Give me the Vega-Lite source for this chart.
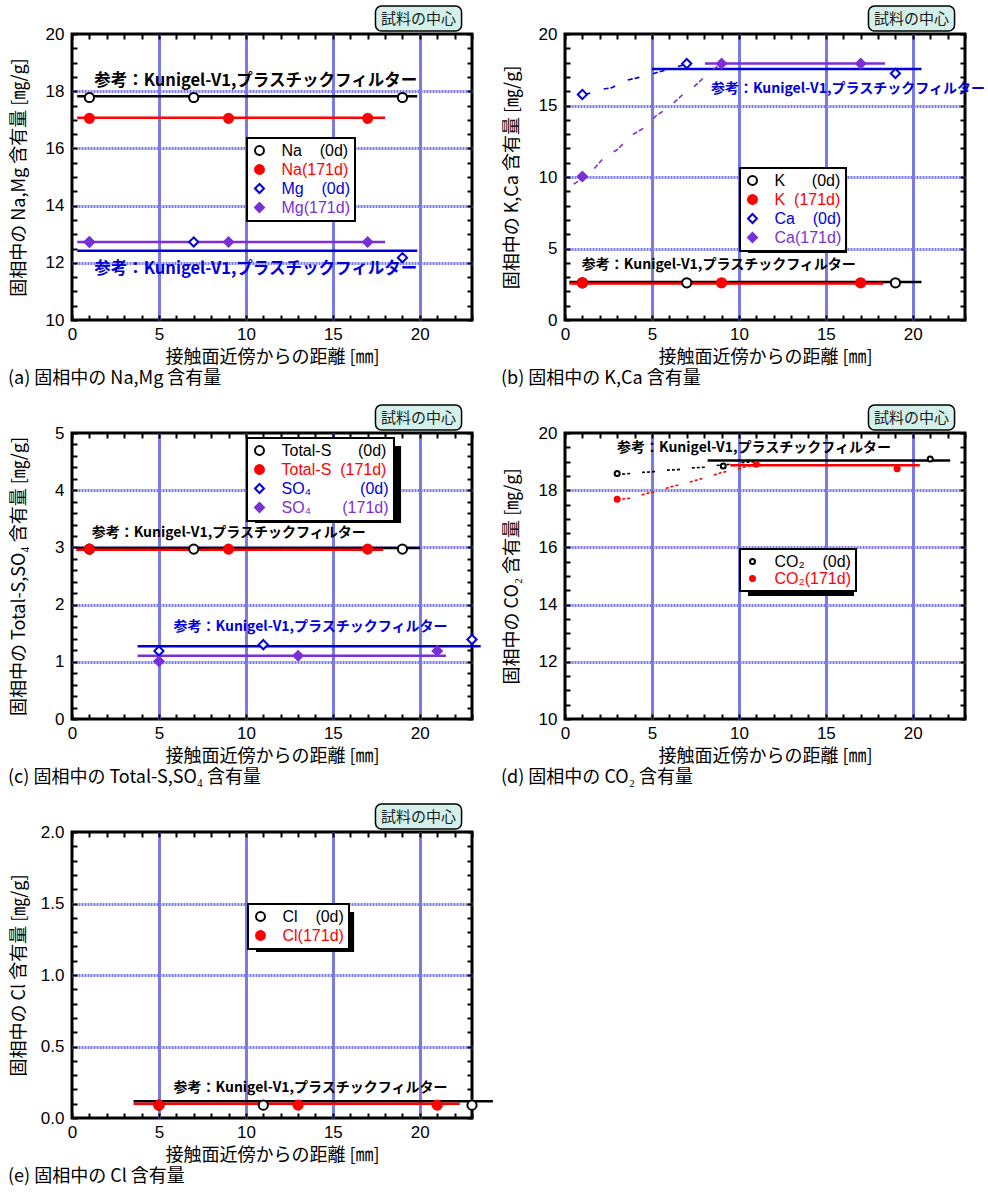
{
"$schema":"https://vega.github.io/schema/vega-lite/v6.json",
"background":"white",
"padding":{"left":6,"top":3,"right":5,"bottom":5},
"bounds":"flush",
"columns":2,
"spacing":{"row":113,"column":93},
"config":{
 "view":{"stroke":"#000000","strokeWidth":3},
 "axis":{"domain":false,"tickColor":"#000000","tickWidth":2,"tickSize":-5,"labelFont":"Liberation Sans","labelFontSize":17,"labelColor":"#000000","labelOverlap":false,"labelFlush":false,"titleFont":"Noto Sans CJK JP","titleFontSize":18,"titleFontWeight":"normal","titleColor":"#000000","gridColor":"#7a7ae6","gridWidth":3},
 "axisBottom":{"labelPadding":11,"titleY":37,"titleBaseline":"middle"},
 "axisLeft":{"labelPadding":13,"titleX":-53,"titleBaseline":"middle","gridDash":[2,1]},
 "legend":{"strokeWidth":2,"fillColor":"#ffffff","strokeColor":"#000000"},
 "title":{"orient":"bottom","anchor":"start","frame":"group","dx":-64,"offset":4,"fontSize":18,"fontWeight":"normal","font":"Noto Sans CJK JP","color":"#000000","baseline":"top"}
},
"datasets":{
 "points":[
  {"panel":"a","series":"Na\u00a0\u00a0\u00a0\u00a0(0d)","x":1,"y":17.78},
  {"panel":"a","series":"Na\u00a0\u00a0\u00a0\u00a0(0d)","x":7,"y":17.78},
  {"panel":"a","series":"Na\u00a0\u00a0\u00a0\u00a0(0d)","x":19,"y":17.78},
  {"panel":"a","series":"Mg\u00a0\u00a0\u00a0\u00a0(0d)","x":1,"y":12.73},
  {"panel":"a","series":"Mg\u00a0\u00a0\u00a0\u00a0(0d)","x":7,"y":12.73},
  {"panel":"a","series":"Mg\u00a0\u00a0\u00a0\u00a0(0d)","x":19,"y":12.18},
  {"panel":"a","series":"Na(171d)","x":1,"y":17.05},
  {"panel":"a","series":"Na(171d)","x":9,"y":17.05},
  {"panel":"a","series":"Na(171d)","x":17,"y":17.05},
  {"panel":"a","series":"Mg(171d)","x":1,"y":12.73},
  {"panel":"a","series":"Mg(171d)","x":9,"y":12.73},
  {"panel":"a","series":"Mg(171d)","x":17,"y":12.73},
  {"panel":"b","series":"K\u00a0\u00a0\u00a0\u00a0\u00a0\u00a0(0d)","x":1,"y":2.6},
  {"panel":"b","series":"K\u00a0\u00a0\u00a0\u00a0\u00a0\u00a0(0d)","x":7,"y":2.6},
  {"panel":"b","series":"K\u00a0\u00a0\u00a0\u00a0\u00a0\u00a0(0d)","x":19,"y":2.6},
  {"panel":"b","series":"Ca\u00a0\u00a0\u00a0\u00a0(0d)","x":1,"y":15.77},
  {"panel":"b","series":"Ca\u00a0\u00a0\u00a0\u00a0(0d)","x":7,"y":17.93},
  {"panel":"b","series":"Ca\u00a0\u00a0\u00a0\u00a0(0d)","x":19,"y":17.24},
  {"panel":"b","series":"K\u00a0\u00a0(171d)","x":1,"y":2.6},
  {"panel":"b","series":"K\u00a0\u00a0(171d)","x":9,"y":2.6},
  {"panel":"b","series":"K\u00a0\u00a0(171d)","x":17,"y":2.6},
  {"panel":"b","series":"Ca(171d)","x":1,"y":10.03},
  {"panel":"b","series":"Ca(171d)","x":9,"y":17.93},
  {"panel":"b","series":"Ca(171d)","x":17,"y":17.93},
  {"panel":"c","series":"Total-S\u00a0\u00a0\u00a0\u00a0\u00a0\u00a0(0d)","x":1,"y":2.97},
  {"panel":"c","series":"Total-S\u00a0\u00a0\u00a0\u00a0\u00a0\u00a0(0d)","x":7,"y":2.97},
  {"panel":"c","series":"Total-S\u00a0\u00a0\u00a0\u00a0\u00a0\u00a0(0d)","x":19,"y":2.97},
  {"panel":"c","series":"SO₄\u00a0\u00a0\u00a0\u00a0\u00a0\u00a0\u00a0\u00a0\u00a0\u00a0\u00a0(0d)","x":5,"y":1.19},
  {"panel":"c","series":"SO₄\u00a0\u00a0\u00a0\u00a0\u00a0\u00a0\u00a0\u00a0\u00a0\u00a0\u00a0(0d)","x":11,"y":1.3},
  {"panel":"c","series":"SO₄\u00a0\u00a0\u00a0\u00a0\u00a0\u00a0\u00a0\u00a0\u00a0\u00a0\u00a0(0d)","x":23,"y":1.39},
  {"panel":"c","series":"Total-S\u00a0\u00a0(171d)","x":1,"y":2.97},
  {"panel":"c","series":"Total-S\u00a0\u00a0(171d)","x":9,"y":2.97},
  {"panel":"c","series":"Total-S\u00a0\u00a0(171d)","x":17,"y":2.97},
  {"panel":"c","series":"SO₄\u00a0\u00a0\u00a0\u00a0\u00a0\u00a0\u00a0(171d)","x":5,"y":1.01},
  {"panel":"c","series":"SO₄\u00a0\u00a0\u00a0\u00a0\u00a0\u00a0\u00a0(171d)","x":13,"y":1.105},
  {"panel":"c","series":"SO₄\u00a0\u00a0\u00a0\u00a0\u00a0\u00a0\u00a0(171d)","x":21,"y":1.19},
  {"panel":"d","series":"CO₂\u00a0\u00a0\u00a0\u00a0(0d)","x":3,"y":18.58},
  {"panel":"d","series":"CO₂\u00a0\u00a0\u00a0\u00a0(0d)","x":9.1,"y":18.85},
  {"panel":"d","series":"CO₂\u00a0\u00a0\u00a0\u00a0(0d)","x":21,"y":19.09},
  {"panel":"d","series":"CO₂(171d)","x":3,"y":17.68},
  {"panel":"d","series":"CO₂(171d)","x":11,"y":18.91},
  {"panel":"d","series":"CO₂(171d)","x":19.1,"y":18.75},
  {"panel":"e","series":"Cl\u00a0\u00a0\u00a0\u00a0(0d)","x":5,"y":0.09},
  {"panel":"e","series":"Cl\u00a0\u00a0\u00a0\u00a0(0d)","x":11,"y":0.09},
  {"panel":"e","series":"Cl\u00a0\u00a0\u00a0\u00a0(0d)","x":23,"y":0.09},
  {"panel":"e","series":"Cl(171d)","x":5,"y":0.09},
  {"panel":"e","series":"Cl(171d)","x":13,"y":0.09},
  {"panel":"e","series":"Cl(171d)","x":21,"y":0.09}
 ],
 "fits":[
  {"panel":"a","line":"Na 0d","x":0.3,"x2":19.85,"y":17.82},
  {"panel":"a","line":"Mg 0d","x":0.3,"x2":19.85,"y":12.42},
  {"panel":"a","line":"Na 171d","x":0.3,"x2":18.0,"y":17.07},
  {"panel":"a","line":"Mg 171d","x":0.3,"x2":18.0,"y":12.73},
  {"panel":"b","line":"K 0d","x":0.25,"x2":20.5,"y":2.66},
  {"panel":"b","line":"Ca 0d","x":5.0,"x2":20.5,"y":17.56},
  {"panel":"b","line":"K 171d","x":0.25,"x2":18.3,"y":2.55},
  {"panel":"b","line":"Ca 171d","x":8.05,"x2":18.4,"y":17.93},
  {"panel":"c","line":"Total-S 0d","x":0.25,"x2":20.0,"y":2.99},
  {"panel":"c","line":"SO4 0d","x":3.77,"x2":23.5,"y":1.27},
  {"panel":"c","line":"Total-S 171d","x":0.25,"x2":17.9,"y":2.96},
  {"panel":"c","line":"SO4 171d","x":3.77,"x2":21.5,"y":1.105},
  {"panel":"d","line":"CO2 0d","x":8.2,"x2":22.15,"y":19.04},
  {"panel":"d","line":"CO2 171d","x":9.5,"x2":20.4,"y":18.87},
  {"panel":"e","line":"Cl 0d","x":3.54,"x2":24.2,"y":0.117},
  {"panel":"e","line":"Cl 171d","x":3.54,"x2":22.3,"y":0.1}
 ],
 "curves":[
  {"panel":"b","line":"Ca 0d","x":0.8,"y":15.6},
  {"panel":"b","line":"Ca 0d","x":1.5,"y":15.9},
  {"panel":"b","line":"Ca 0d","x":2.0,"y":16.1},
  {"panel":"b","line":"Ca 0d","x":2.7,"y":16.25},
  {"panel":"b","line":"Ca 0d","x":3.5,"y":16.75},
  {"panel":"b","line":"Ca 0d","x":4.2,"y":16.95},
  {"panel":"b","line":"Ca 0d","x":5.0,"y":17.2},
  {"panel":"b","line":"Ca 0d","x":5.7,"y":17.45},
  {"panel":"b","line":"Ca 0d","x":6.4,"y":17.7},
  {"panel":"b","line":"Ca 0d","x":7.0,"y":17.9},
  {"panel":"b","line":"Ca 171d","x":0.5,"y":9.5},
  {"panel":"b","line":"Ca 171d","x":1.0,"y":9.9},
  {"panel":"b","line":"Ca 171d","x":1.55,"y":10.4},
  {"panel":"b","line":"Ca 171d","x":2.3,"y":11.45},
  {"panel":"b","line":"Ca 171d","x":3.0,"y":11.9},
  {"panel":"b","line":"Ca 171d","x":3.8,"y":12.9},
  {"panel":"b","line":"Ca 171d","x":4.5,"y":13.4},
  {"panel":"b","line":"Ca 171d","x":5.25,"y":14.3},
  {"panel":"b","line":"Ca 171d","x":6.0,"y":14.9},
  {"panel":"b","line":"Ca 171d","x":6.8,"y":15.8},
  {"panel":"b","line":"Ca 171d","x":7.45,"y":16.35},
  {"panel":"b","line":"Ca 171d","x":8.2,"y":17.2},
  {"panel":"b","line":"Ca 171d","x":8.6,"y":17.6},
  {"panel":"b","line":"Ca 171d","x":9.0,"y":17.9},
  {"panel":"d","line":"CO2 0d","x":3.0,"y":18.55},
  {"panel":"d","line":"CO2 0d","x":3.5,"y":18.57},
  {"panel":"d","line":"CO2 0d","x":4.3,"y":18.62},
  {"panel":"d","line":"CO2 0d","x":5.0,"y":18.64},
  {"panel":"d","line":"CO2 0d","x":5.8,"y":18.7},
  {"panel":"d","line":"CO2 0d","x":6.5,"y":18.72},
  {"panel":"d","line":"CO2 0d","x":7.2,"y":18.78},
  {"panel":"d","line":"CO2 0d","x":8.0,"y":18.8},
  {"panel":"d","line":"CO2 0d","x":8.8,"y":18.87},
  {"panel":"d","line":"CO2 0d","x":9.4,"y":18.9},
  {"panel":"d","line":"CO2 0d","x":10.3,"y":18.97},
  {"panel":"d","line":"CO2 0d","x":11.0,"y":19.0},
  {"panel":"d","line":"CO2 171d","x":3.0,"y":17.68},
  {"panel":"d","line":"CO2 171d","x":3.8,"y":17.72},
  {"panel":"d","line":"CO2 171d","x":4.6,"y":17.87},
  {"panel":"d","line":"CO2 171d","x":5.3,"y":17.97},
  {"panel":"d","line":"CO2 171d","x":6.1,"y":18.12},
  {"panel":"d","line":"CO2 171d","x":6.8,"y":18.22},
  {"panel":"d","line":"CO2 171d","x":7.6,"y":18.36},
  {"panel":"d","line":"CO2 171d","x":8.3,"y":18.48},
  {"panel":"d","line":"CO2 171d","x":9.0,"y":18.62},
  {"panel":"d","line":"CO2 171d","x":9.7,"y":18.7},
  {"panel":"d","line":"CO2 171d","x":10.4,"y":18.82},
  {"panel":"d","line":"CO2 171d","x":11.0,"y":18.9}
 ],
 "notes":[
  {"panel":"a","tone":"black","x":1.28,"y":18.36,"text":"参考：Kunigel-V1,プラスチックフィルター"},
  {"panel":"a","tone":"blue","x":1.28,"y":11.8,"text":"参考：Kunigel-V1,プラスチックフィルター"},
  {"panel":"b","tone":"black","x":0.97,"y":3.86,"text":"参考：Kunigel-V1,プラスチックフィルター"},
  {"panel":"b","tone":"blue","x":8.39,"y":16.14,"text":"参考：Kunigel-V1,プラスチックフィルター"},
  {"panel":"c","tone":"black","x":1.13,"y":3.26,"text":"参考：Kunigel-V1,プラスチックフィルター"},
  {"panel":"c","tone":"blue","x":5.84,"y":1.6,"text":"参考：Kunigel-V1,プラスチックフィルター"},
  {"panel":"d","tone":"black","x":2.99,"y":19.47,"text":"参考：Kunigel-V1,プラスチックフィルター"},
  {"panel":"e","tone":"black","x":5.84,"y":0.213,"text":"参考：Kunigel-V1,プラスチックフィルター"}
 ]
},
"resolve":{"scale":{"color":"independent","fill":"independent","shape":"independent","stroke":"independent","x":"independent","y":"independent"},"legend":{"color":"independent","fill":"independent","shape":"independent","stroke":"independent"}},
"concat":[
 {
  "width":400,"height":286,
  "title":{"text":"(a) 固相中の Na,Mg 含有量"},
  "resolve":{"axis":{"x":"independent","y":"independent"}},
  "layer":[
   {"data":{"values":[{}]},"mark":{"type":"rect","color":"#000000"},"encoding":{"x":{"datum":10.52,"type":"quantitative","scale":{"domain":[0,23],"nice":false,"zero":false},"axis":null},"x2":{"datum":16.27},"y":{"datum":16.08,"type":"quantitative","scale":{"domain":[10,20],"nice":false,"zero":false},"axis":null},"y2":{"datum":13.46}}},
   {"data":{"values":[{}]},"mark":{"type":"rect","fill":"#d3f1ea","stroke":"#000000","strokeWidth":1.5,"cornerRadius":6,"yOffset":-28,"y2Offset":-3},"encoding":{"x":{"datum":17.45,"type":"quantitative","scale":{"domain":[0,23],"nice":false,"zero":false},"axis":null},"x2":{"datum":22.4},"y":{"datum":20,"type":"quantitative","scale":{"domain":[10,20],"nice":false,"zero":false},"axis":null},"y2":{"datum":20}}},
   {"data":{"values":[{}]},"mark":{"type":"text","text":"試料の中心","font":"Noto Sans CJK JP","fontSize":15,"color":"#1a1a1a","align":"center","baseline":"middle","dy":-15.5},"encoding":{"x":{"datum":19.93,"type":"quantitative","scale":{"domain":[0,23],"nice":false,"zero":false},"axis":null},"y":{"datum":20,"type":"quantitative","scale":{"domain":[10,20],"nice":false,"zero":false},"axis":null}}},
   {"data":{"name":"fits"},"transform":[{"filter":"datum.panel === 'a'"}],"mark":{"type":"rule","strokeWidth":2.5},
    "encoding":{
     "x":{"field":"x","type":"quantitative","scale":{"domain":[0,23],"nice":false,"zero":false},"axis":{"orient":"bottom","values":[0,1,2,3,4,5,6,7,8,9,10,11,12,13,14,15,16,17,18,19,20,21,22,23],"labelExpr":"datum.value % 5 === 0 && datum.value <= 20 ? datum.label : ''","grid":true,"gridOpacity":{"condition":{"test":"datum.value % 5 === 0 && datum.value > 0 && datum.value <= 20","value":1},"value":0},"title":"接触面近傍からの距離 [㎜]"}},
     "x2":{"field":"x2"},
     "y":{"field":"y","type":"quantitative","scale":{"domain":[10,20],"nice":false,"zero":false},"axis":{"orient":"left","values":[10,10.5,11,11.5,12,12.5,13,13.5,14,14.5,15,15.5,16,16.5,17,17.5,18,18.5,19,19.5,20],"labelExpr":"datum.value % 2 === 0 ? format(datum.value, '.0f') : ''","grid":true,"gridOpacity":{"condition":{"test":"datum.value % 2 === 0 && datum.value > 10 && datum.value < 20","value":1},"value":0},"title":"固相中の Na,Mg 含有量 [㎎/g]"}},
     "stroke":{"field":"line","type":"nominal","scale":{"domain":["Na 0d","Na 171d","Mg 0d","Mg 171d"],"range":["#000000","#ff0000","#0000dd","#7b2fd8"]},"legend":null}
    }},
   {"data":{"name":"notes"},"transform":[{"filter":"datum.panel === 'a' && datum.tone === 'black'"}],"mark":{"type":"text","align":"left","baseline":"middle","font":"Noto Sans CJK JP","fontWeight":"bold","fontSize":16.5,"color":"#000000"},"encoding":{"x":{"field":"x","type":"quantitative","scale":{"domain":[0,23],"nice":false,"zero":false},"axis":null},"y":{"field":"y","type":"quantitative","scale":{"domain":[10,20],"nice":false,"zero":false},"axis":null},"text":{"field":"text"}}},
   {"data":{"name":"notes"},"transform":[{"filter":"datum.panel === 'a' && datum.tone === 'blue'"}],"mark":{"type":"text","align":"left","baseline":"middle","font":"Noto Sans CJK JP","fontWeight":"bold","fontSize":16.5,"color":"#0000dd"},"encoding":{"x":{"field":"x","type":"quantitative","scale":{"domain":[0,23],"nice":false,"zero":false},"axis":null},"y":{"field":"y","type":"quantitative","scale":{"domain":[10,20],"nice":false,"zero":false},"axis":null},"text":{"field":"text"}}},
   {"data":{"name":"points"},"transform":[{"filter":"datum.panel === 'a'"}],"mark":{"type":"point","filled":false,"strokeWidth":2,"size":85,"opacity":1},
    "encoding":{
     "x":{"field":"x","type":"quantitative","scale":{"domain":[0,23],"nice":false,"zero":false},"axis":{"orient":"top","values":[0,1,2,3,4,5,6,7,8,9,10,11,12,13,14,15,16,17,18,19,20,21,22,23],"labels":false,"grid":false,"title":null}},
     "y":{"field":"y","type":"quantitative","scale":{"domain":[10,20],"nice":false,"zero":false},"axis":{"orient":"right","values":[10,10.5,11,11.5,12,12.5,13,13.5,14,14.5,15,15.5,16,16.5,17,17.5,18,18.5,19,19.5,20],"labels":false,"grid":false,"title":null}},
     "color":{"field":"series","type":"nominal","title":null,"scale":{"domain":["Na\u00a0\u00a0\u00a0\u00a0(0d)","Na(171d)","Mg\u00a0\u00a0\u00a0\u00a0(0d)","Mg(171d)"],"range":["#000000","#ff0000","#0000dd","#7b2fd8"]},"legend":{"orient":"none","legendX":175,"legendY":104,"zindex":1,"padding":4.5,"rowPadding":1,"labelOffset":14,"labelFont":"Liberation Sans","labelFontSize":16,"labelLimit":300,"symbolSize":80,"symbolStrokeWidth":2,"fillColor":"#ffffff","strokeColor":"#000000","labelColor":{"expr":"['#000000','#ff0000','#0000dd','#7b2fd8'][datum.index]"}}},
     "fill":{"field":"series","type":"nominal","title":null,"scale":{"domain":["Na\u00a0\u00a0\u00a0\u00a0(0d)","Na(171d)","Mg\u00a0\u00a0\u00a0\u00a0(0d)","Mg(171d)"],"range":["#ffffff","#ff0000","#ffffff","#7b2fd8"]},"legend":{"orient":"none","legendX":175,"legendY":104,"zindex":1,"padding":4.5,"rowPadding":1,"labelOffset":14,"labelFont":"Liberation Sans","labelFontSize":16,"labelLimit":300,"symbolSize":80,"symbolStrokeWidth":2,"fillColor":"#ffffff","strokeColor":"#000000","labelColor":{"expr":"['#000000','#ff0000','#0000dd','#7b2fd8'][datum.index]"}}},
     "shape":{"field":"series","type":"nominal","title":null,"scale":{"domain":["Na\u00a0\u00a0\u00a0\u00a0(0d)","Na(171d)","Mg\u00a0\u00a0\u00a0\u00a0(0d)","Mg(171d)"],"range":["circle","circle","diamond","diamond"]},"legend":{"orient":"none","legendX":175,"legendY":104,"zindex":1,"padding":4.5,"rowPadding":1,"labelOffset":14,"labelFont":"Liberation Sans","labelFontSize":16,"labelLimit":300,"symbolSize":80,"symbolStrokeWidth":2,"fillColor":"#ffffff","strokeColor":"#000000","labelColor":{"expr":"['#000000','#ff0000','#0000dd','#7b2fd8'][datum.index]"}}}
    }}
  ]
 },
 {
  "width":400,"height":286,
  "title":{"text":"(b) 固相中の K,Ca 含有量"},
  "resolve":{"axis":{"x":"independent","y":"independent"}},
  "layer":[
   {"data":{"values":[{}]},"mark":{"type":"rect","color":"#000000"},"encoding":{"x":{"datum":10.52,"type":"quantitative","scale":{"domain":[0,23],"nice":false,"zero":false},"axis":null},"x2":{"datum":16.22},"y":{"datum":10.07,"type":"quantitative","scale":{"domain":[0,20],"nice":false,"zero":false},"axis":null},"y2":{"datum":4.69}}},
   {"data":{"values":[{}]},"mark":{"type":"rect","fill":"#d3f1ea","stroke":"#000000","strokeWidth":1.5,"cornerRadius":6,"yOffset":-28,"y2Offset":-3},"encoding":{"x":{"datum":17.45,"type":"quantitative","scale":{"domain":[0,23],"nice":false,"zero":false},"axis":null},"x2":{"datum":22.4},"y":{"datum":20,"type":"quantitative","scale":{"domain":[0,20],"nice":false,"zero":false},"axis":null},"y2":{"datum":20}}},
   {"data":{"values":[{}]},"mark":{"type":"text","text":"試料の中心","font":"Noto Sans CJK JP","fontSize":15,"color":"#1a1a1a","align":"center","baseline":"middle","dy":-15.5},"encoding":{"x":{"datum":19.93,"type":"quantitative","scale":{"domain":[0,23],"nice":false,"zero":false},"axis":null},"y":{"datum":20,"type":"quantitative","scale":{"domain":[0,20],"nice":false,"zero":false},"axis":null}}},
   {"data":{"name":"fits"},"transform":[{"filter":"datum.panel === 'b'"}],"mark":{"type":"rule","strokeWidth":2.5},
    "encoding":{
     "x":{"field":"x","type":"quantitative","scale":{"domain":[0,23],"nice":false,"zero":false},"axis":{"orient":"bottom","values":[0,1,2,3,4,5,6,7,8,9,10,11,12,13,14,15,16,17,18,19,20,21,22,23],"labelExpr":"datum.value % 5 === 0 && datum.value <= 20 ? datum.label : ''","grid":true,"gridOpacity":{"condition":{"test":"datum.value % 5 === 0 && datum.value > 0 && datum.value <= 20","value":1},"value":0},"title":"接触面近傍からの距離 [㎜]"}},
     "x2":{"field":"x2"},
     "y":{"field":"y","type":"quantitative","scale":{"domain":[0,20],"nice":false,"zero":false},"axis":{"orient":"left","values":[0,1,2,3,4,5,6,7,8,9,10,11,12,13,14,15,16,17,18,19,20],"labelExpr":"datum.value % 5 === 0 ? format(datum.value, '.0f') : ''","grid":true,"gridOpacity":{"condition":{"test":"datum.value % 5 === 0 && datum.value > 0 && datum.value < 20","value":1},"value":0},"title":"固相中の K,Ca 含有量 [㎎/g]"}},
     "stroke":{"field":"line","type":"nominal","scale":{"domain":["K 0d","K 171d","Ca 0d","Ca 171d"],"range":["#000000","#ff0000","#0000dd","#7b2fd8"]},"legend":null}
    }},
   {"data":{"name":"curves"},"transform":[{"filter":"datum.panel === 'b'"}],"mark":{"type":"line","strokeWidth":1.6,"strokeDash":[5,2,5,14]},
    "encoding":{
     "x":{"field":"x","type":"quantitative","scale":{"domain":[0,23],"nice":false,"zero":false},"axis":null},
     "y":{"field":"y","type":"quantitative","scale":{"domain":[0,20],"nice":false,"zero":false},"axis":null},
     "stroke":{"field":"line","type":"nominal","scale":{"domain":["K 0d","K 171d","Ca 0d","Ca 171d"],"range":["#000000","#ff0000","#0000dd","#7b2fd8"]},"legend":null}
    }},
   {"data":{"name":"notes"},"transform":[{"filter":"datum.panel === 'b' && datum.tone === 'black'"}],"mark":{"type":"text","align":"left","baseline":"middle","font":"Noto Sans CJK JP","fontWeight":"bold","fontSize":14,"color":"#000000"},"encoding":{"x":{"field":"x","type":"quantitative","scale":{"domain":[0,23],"nice":false,"zero":false},"axis":null},"y":{"field":"y","type":"quantitative","scale":{"domain":[0,20],"nice":false,"zero":false},"axis":null},"text":{"field":"text"}}},
   {"data":{"name":"notes"},"transform":[{"filter":"datum.panel === 'b' && datum.tone === 'blue'"}],"mark":{"type":"text","align":"left","baseline":"middle","font":"Noto Sans CJK JP","fontWeight":"bold","fontSize":14,"color":"#0000dd"},"encoding":{"x":{"field":"x","type":"quantitative","scale":{"domain":[0,23],"nice":false,"zero":false},"axis":null},"y":{"field":"y","type":"quantitative","scale":{"domain":[0,20],"nice":false,"zero":false},"axis":null},"text":{"field":"text"}}},
   {"data":{"name":"points"},"transform":[{"filter":"datum.panel === 'b'"}],"mark":{"type":"point","filled":false,"strokeWidth":2,"size":85,"opacity":1},
    "encoding":{
     "x":{"field":"x","type":"quantitative","scale":{"domain":[0,23],"nice":false,"zero":false},"axis":{"orient":"top","values":[0,1,2,3,4,5,6,7,8,9,10,11,12,13,14,15,16,17,18,19,20,21,22,23],"labels":false,"grid":false,"title":null}},
     "y":{"field":"y","type":"quantitative","scale":{"domain":[0,20],"nice":false,"zero":false},"axis":{"orient":"right","values":[0,1,2,3,4,5,6,7,8,9,10,11,12,13,14,15,16,17,18,19,20],"labels":false,"grid":false,"title":null}},
     "color":{"field":"series","type":"nominal","title":null,"scale":{"domain":["K\u00a0\u00a0\u00a0\u00a0\u00a0\u00a0(0d)","K\u00a0\u00a0(171d)","Ca\u00a0\u00a0\u00a0\u00a0(0d)","Ca(171d)"],"range":["#000000","#ff0000","#0000dd","#7b2fd8"]},"legend":{"orient":"none","legendX":175,"legendY":134,"zindex":1,"padding":4.5,"rowPadding":1,"labelOffset":14,"labelFont":"Liberation Sans","labelFontSize":16,"labelLimit":300,"symbolSize":80,"symbolStrokeWidth":2,"fillColor":"#ffffff","strokeColor":"#000000","labelColor":{"expr":"['#000000','#ff0000','#0000dd','#7b2fd8'][datum.index]"}}},
     "fill":{"field":"series","type":"nominal","title":null,"scale":{"domain":["K\u00a0\u00a0\u00a0\u00a0\u00a0\u00a0(0d)","K\u00a0\u00a0(171d)","Ca\u00a0\u00a0\u00a0\u00a0(0d)","Ca(171d)"],"range":["#ffffff","#ff0000","#ffffff","#7b2fd8"]},"legend":{"orient":"none","legendX":175,"legendY":134,"zindex":1,"padding":4.5,"rowPadding":1,"labelOffset":14,"labelFont":"Liberation Sans","labelFontSize":16,"labelLimit":300,"symbolSize":80,"symbolStrokeWidth":2,"fillColor":"#ffffff","strokeColor":"#000000","labelColor":{"expr":"['#000000','#ff0000','#0000dd','#7b2fd8'][datum.index]"}}},
     "shape":{"field":"series","type":"nominal","title":null,"scale":{"domain":["K\u00a0\u00a0\u00a0\u00a0\u00a0\u00a0(0d)","K\u00a0\u00a0(171d)","Ca\u00a0\u00a0\u00a0\u00a0(0d)","Ca(171d)"],"range":["circle","circle","diamond","diamond"]},"legend":{"orient":"none","legendX":175,"legendY":134,"zindex":1,"padding":4.5,"rowPadding":1,"labelOffset":14,"labelFont":"Liberation Sans","labelFontSize":16,"labelLimit":300,"symbolSize":80,"symbolStrokeWidth":2,"fillColor":"#ffffff","strokeColor":"#000000","labelColor":{"expr":"['#000000','#ff0000','#0000dd','#7b2fd8'][datum.index]"}}}
    }}
  ]
 },
 {
  "width":400,"height":286,
  "title":{"text":"(c) 固相中の Total-S,SO₄ 含有量"},
  "resolve":{"axis":{"x":"independent","y":"independent"}},
  "layer":[
   {"data":{"values":[{}]},"mark":{"type":"rect","color":"#000000"},"encoding":{"x":{"datum":10.52,"type":"quantitative","scale":{"domain":[0,23],"nice":false,"zero":false},"axis":null},"x2":{"datum":18.92},"y":{"datum":4.773,"type":"quantitative","scale":{"domain":[0,5],"nice":false,"zero":false},"axis":null},"y2":{"datum":3.427}}},
   {"data":{"values":[{}]},"mark":{"type":"rect","fill":"#d3f1ea","stroke":"#000000","strokeWidth":1.5,"cornerRadius":6,"yOffset":-28,"y2Offset":-3},"encoding":{"x":{"datum":17.45,"type":"quantitative","scale":{"domain":[0,23],"nice":false,"zero":false},"axis":null},"x2":{"datum":22.4},"y":{"datum":5,"type":"quantitative","scale":{"domain":[0,5],"nice":false,"zero":false},"axis":null},"y2":{"datum":5}}},
   {"data":{"values":[{}]},"mark":{"type":"text","text":"試料の中心","font":"Noto Sans CJK JP","fontSize":15,"color":"#1a1a1a","align":"center","baseline":"middle","dy":-15.5},"encoding":{"x":{"datum":19.93,"type":"quantitative","scale":{"domain":[0,23],"nice":false,"zero":false},"axis":null},"y":{"datum":5,"type":"quantitative","scale":{"domain":[0,5],"nice":false,"zero":false},"axis":null}}},
   {"data":{"name":"fits"},"transform":[{"filter":"datum.panel === 'c'"}],"mark":{"type":"rule","strokeWidth":2.5},
    "encoding":{
     "x":{"field":"x","type":"quantitative","scale":{"domain":[0,23],"nice":false,"zero":false},"axis":{"orient":"bottom","values":[0,1,2,3,4,5,6,7,8,9,10,11,12,13,14,15,16,17,18,19,20,21,22,23],"labelExpr":"datum.value % 5 === 0 && datum.value <= 20 ? datum.label : ''","grid":true,"gridOpacity":{"condition":{"test":"datum.value % 5 === 0 && datum.value > 0 && datum.value <= 20","value":1},"value":0},"title":"接触面近傍からの距離 [㎜]"}},
     "x2":{"field":"x2"},
     "y":{"field":"y","type":"quantitative","scale":{"domain":[0,5],"nice":false,"zero":false},"axis":{"orient":"left","values":[0,0.2,0.4,0.6,0.8,1,1.2,1.4,1.6,1.8,2,2.2,2.4,2.6,2.8,3,3.2,3.4,3.6,3.8,4,4.2,4.4,4.6,4.8,5],"labelExpr":"datum.value % 1 === 0 ? format(datum.value, '.0f') : ''","grid":true,"gridOpacity":{"condition":{"test":"datum.value % 1 === 0 && datum.value > 0 && datum.value < 5","value":1},"value":0},"title":"固相中の Total-S,SO₄ 含有量 [㎎/g]"}},
     "stroke":{"field":"line","type":"nominal","scale":{"domain":["Total-S 0d","Total-S 171d","SO4 0d","SO4 171d"],"range":["#000000","#ff0000","#0000dd","#7b2fd8"]},"legend":null}
    }},
   {"data":{"name":"notes"},"transform":[{"filter":"datum.panel === 'c' && datum.tone === 'black'"}],"mark":{"type":"text","align":"left","baseline":"middle","font":"Noto Sans CJK JP","fontWeight":"bold","fontSize":14,"color":"#000000"},"encoding":{"x":{"field":"x","type":"quantitative","scale":{"domain":[0,23],"nice":false,"zero":false},"axis":null},"y":{"field":"y","type":"quantitative","scale":{"domain":[0,5],"nice":false,"zero":false},"axis":null},"text":{"field":"text"}}},
   {"data":{"name":"notes"},"transform":[{"filter":"datum.panel === 'c' && datum.tone === 'blue'"}],"mark":{"type":"text","align":"left","baseline":"middle","font":"Noto Sans CJK JP","fontWeight":"bold","fontSize":14,"color":"#0000dd"},"encoding":{"x":{"field":"x","type":"quantitative","scale":{"domain":[0,23],"nice":false,"zero":false},"axis":null},"y":{"field":"y","type":"quantitative","scale":{"domain":[0,5],"nice":false,"zero":false},"axis":null},"text":{"field":"text"}}},
   {"data":{"name":"points"},"transform":[{"filter":"datum.panel === 'c'"}],"mark":{"type":"point","filled":false,"strokeWidth":2,"size":85,"opacity":1},
    "encoding":{
     "x":{"field":"x","type":"quantitative","scale":{"domain":[0,23],"nice":false,"zero":false},"axis":{"orient":"top","values":[0,1,2,3,4,5,6,7,8,9,10,11,12,13,14,15,16,17,18,19,20,21,22,23],"labels":false,"grid":false,"title":null}},
     "y":{"field":"y","type":"quantitative","scale":{"domain":[0,5],"nice":false,"zero":false},"axis":{"orient":"right","values":[0,0.2,0.4,0.6,0.8,1,1.2,1.4,1.6,1.8,2,2.2,2.4,2.6,2.8,3,3.2,3.4,3.6,3.8,4,4.2,4.4,4.6,4.8,5],"labels":false,"grid":false,"title":null}},
     "color":{"field":"series","type":"nominal","title":null,"scale":{"domain":["Total-S\u00a0\u00a0\u00a0\u00a0\u00a0\u00a0(0d)","Total-S\u00a0\u00a0(171d)","SO₄\u00a0\u00a0\u00a0\u00a0\u00a0\u00a0\u00a0\u00a0\u00a0\u00a0\u00a0(0d)","SO₄\u00a0\u00a0\u00a0\u00a0\u00a0\u00a0\u00a0(171d)"],"range":["#000000","#ff0000","#0000dd","#7b2fd8"]},"legend":{"orient":"none","legendX":175,"legendY":5,"zindex":1,"padding":4.5,"rowPadding":1,"labelOffset":14,"labelFont":"Liberation Sans","labelFontSize":16,"labelLimit":300,"symbolSize":80,"symbolStrokeWidth":2,"fillColor":"#ffffff","strokeColor":"#000000","labelColor":{"expr":"['#000000','#ff0000','#0000dd','#7b2fd8'][datum.index]"}}},
     "fill":{"field":"series","type":"nominal","title":null,"scale":{"domain":["Total-S\u00a0\u00a0\u00a0\u00a0\u00a0\u00a0(0d)","Total-S\u00a0\u00a0(171d)","SO₄\u00a0\u00a0\u00a0\u00a0\u00a0\u00a0\u00a0\u00a0\u00a0\u00a0\u00a0(0d)","SO₄\u00a0\u00a0\u00a0\u00a0\u00a0\u00a0\u00a0(171d)"],"range":["#ffffff","#ff0000","#ffffff","#7b2fd8"]},"legend":{"orient":"none","legendX":175,"legendY":5,"zindex":1,"padding":4.5,"rowPadding":1,"labelOffset":14,"labelFont":"Liberation Sans","labelFontSize":16,"labelLimit":300,"symbolSize":80,"symbolStrokeWidth":2,"fillColor":"#ffffff","strokeColor":"#000000","labelColor":{"expr":"['#000000','#ff0000','#0000dd','#7b2fd8'][datum.index]"}}},
     "shape":{"field":"series","type":"nominal","title":null,"scale":{"domain":["Total-S\u00a0\u00a0\u00a0\u00a0\u00a0\u00a0(0d)","Total-S\u00a0\u00a0(171d)","SO₄\u00a0\u00a0\u00a0\u00a0\u00a0\u00a0\u00a0\u00a0\u00a0\u00a0\u00a0(0d)","SO₄\u00a0\u00a0\u00a0\u00a0\u00a0\u00a0\u00a0(171d)"],"range":["circle","circle","diamond","diamond"]},"legend":{"orient":"none","legendX":175,"legendY":5,"zindex":1,"padding":4.5,"rowPadding":1,"labelOffset":14,"labelFont":"Liberation Sans","labelFontSize":16,"labelLimit":300,"symbolSize":80,"symbolStrokeWidth":2,"fillColor":"#ffffff","strokeColor":"#000000","labelColor":{"expr":"['#000000','#ff0000','#0000dd','#7b2fd8'][datum.index]"}}}
    }}
  ]
 },
 {
  "width":400,"height":286,
  "title":{"text":"(d) 固相中の CO₂ 含有量"},
  "resolve":{"axis":{"x":"independent","y":"independent"}},
  "layer":[
   {"data":{"values":[{}]},"mark":{"type":"rect","color":"#000000"},"encoding":{"x":{"datum":10.52,"type":"quantitative","scale":{"domain":[0,23],"nice":false,"zero":false},"axis":null},"x2":{"datum":16.62},"y":{"datum":15.66,"type":"quantitative","scale":{"domain":[10,20],"nice":false,"zero":false},"axis":null},"y2":{"datum":14.3}}},
   {"data":{"values":[{}]},"mark":{"type":"rect","fill":"#d3f1ea","stroke":"#000000","strokeWidth":1.5,"cornerRadius":6,"yOffset":-28,"y2Offset":-3},"encoding":{"x":{"datum":17.45,"type":"quantitative","scale":{"domain":[0,23],"nice":false,"zero":false},"axis":null},"x2":{"datum":22.4},"y":{"datum":20,"type":"quantitative","scale":{"domain":[10,20],"nice":false,"zero":false},"axis":null},"y2":{"datum":20}}},
   {"data":{"values":[{}]},"mark":{"type":"text","text":"試料の中心","font":"Noto Sans CJK JP","fontSize":15,"color":"#1a1a1a","align":"center","baseline":"middle","dy":-15.5},"encoding":{"x":{"datum":19.93,"type":"quantitative","scale":{"domain":[0,23],"nice":false,"zero":false},"axis":null},"y":{"datum":20,"type":"quantitative","scale":{"domain":[10,20],"nice":false,"zero":false},"axis":null}}},
   {"data":{"name":"fits"},"transform":[{"filter":"datum.panel === 'd'"}],"mark":{"type":"rule","strokeWidth":2.5},
    "encoding":{
     "x":{"field":"x","type":"quantitative","scale":{"domain":[0,23],"nice":false,"zero":false},"axis":{"orient":"bottom","values":[0,1,2,3,4,5,6,7,8,9,10,11,12,13,14,15,16,17,18,19,20,21,22,23],"labelExpr":"datum.value % 5 === 0 && datum.value <= 20 ? datum.label : ''","grid":true,"gridOpacity":{"condition":{"test":"datum.value % 5 === 0 && datum.value > 0 && datum.value <= 20","value":1},"value":0},"title":"接触面近傍からの距離 [㎜]"}},
     "x2":{"field":"x2"},
     "y":{"field":"y","type":"quantitative","scale":{"domain":[10,20],"nice":false,"zero":false},"axis":{"orient":"left","values":[10,10.5,11,11.5,12,12.5,13,13.5,14,14.5,15,15.5,16,16.5,17,17.5,18,18.5,19,19.5,20],"labelExpr":"datum.value % 2 === 0 ? format(datum.value, '.0f') : ''","grid":true,"gridOpacity":{"condition":{"test":"datum.value % 2 === 0 && datum.value > 10 && datum.value < 20","value":1},"value":0},"title":"固相中の CO₂ 含有量 [㎎/g]"}},
     "stroke":{"field":"line","type":"nominal","scale":{"domain":["CO2 0d","CO2 171d"],"range":["#000000","#ff0000"]},"legend":null}
    }},
   {"data":{"name":"curves"},"transform":[{"filter":"datum.panel === 'd'"}],"mark":{"type":"line","strokeWidth":1.6,"strokeDash":[3,2,3,2,3,12]},
    "encoding":{
     "x":{"field":"x","type":"quantitative","scale":{"domain":[0,23],"nice":false,"zero":false},"axis":null},
     "y":{"field":"y","type":"quantitative","scale":{"domain":[10,20],"nice":false,"zero":false},"axis":null},
     "stroke":{"field":"line","type":"nominal","scale":{"domain":["CO2 0d","CO2 171d"],"range":["#000000","#ff0000"]},"legend":null}
    }},
   {"data":{"name":"notes"},"transform":[{"filter":"datum.panel === 'd' && datum.tone === 'black'"}],"mark":{"type":"text","align":"left","baseline":"middle","font":"Noto Sans CJK JP","fontWeight":"bold","fontSize":14,"color":"#000000"},"encoding":{"x":{"field":"x","type":"quantitative","scale":{"domain":[0,23],"nice":false,"zero":false},"axis":null},"y":{"field":"y","type":"quantitative","scale":{"domain":[10,20],"nice":false,"zero":false},"axis":null},"text":{"field":"text"}}},
   {"data":{"name":"points"},"transform":[{"filter":"datum.panel === 'd'"}],"mark":{"type":"point","filled":false,"strokeWidth":2,"size":25,"opacity":1},
    "encoding":{
     "x":{"field":"x","type":"quantitative","scale":{"domain":[0,23],"nice":false,"zero":false},"axis":{"orient":"top","values":[0,1,2,3,4,5,6,7,8,9,10,11,12,13,14,15,16,17,18,19,20,21,22,23],"labels":false,"grid":false,"title":null}},
     "y":{"field":"y","type":"quantitative","scale":{"domain":[10,20],"nice":false,"zero":false},"axis":{"orient":"right","values":[10,10.5,11,11.5,12,12.5,13,13.5,14,14.5,15,15.5,16,16.5,17,17.5,18,18.5,19,19.5,20],"labels":false,"grid":false,"title":null}},
     "color":{"field":"series","type":"nominal","title":null,"scale":{"domain":["CO₂\u00a0\u00a0\u00a0\u00a0(0d)","CO₂(171d)"],"range":["#000000","#ff0000"]},"legend":{"orient":"none","legendX":175,"legendY":116,"zindex":1,"padding":4.5,"rowPadding":1,"labelOffset":14,"labelFont":"Liberation Sans","labelFontSize":16,"labelLimit":300,"symbolSize":25,"symbolStrokeWidth":2,"fillColor":"#ffffff","strokeColor":"#000000","labelColor":{"expr":"['#000000','#ff0000'][datum.index]"}}},
     "fill":{"field":"series","type":"nominal","title":null,"scale":{"domain":["CO₂\u00a0\u00a0\u00a0\u00a0(0d)","CO₂(171d)"],"range":["#ffffff","#ff0000"]},"legend":{"orient":"none","legendX":175,"legendY":116,"zindex":1,"padding":4.5,"rowPadding":1,"labelOffset":14,"labelFont":"Liberation Sans","labelFontSize":16,"labelLimit":300,"symbolSize":25,"symbolStrokeWidth":2,"fillColor":"#ffffff","strokeColor":"#000000","labelColor":{"expr":"['#000000','#ff0000'][datum.index]"}}},
     "shape":{"field":"series","type":"nominal","title":null,"scale":{"domain":["CO₂\u00a0\u00a0\u00a0\u00a0(0d)","CO₂(171d)"],"range":["circle","circle"]},"legend":{"orient":"none","legendX":175,"legendY":116,"zindex":1,"padding":4.5,"rowPadding":1,"labelOffset":14,"labelFont":"Liberation Sans","labelFontSize":16,"labelLimit":300,"symbolSize":25,"symbolStrokeWidth":2,"fillColor":"#ffffff","strokeColor":"#000000","labelColor":{"expr":"['#000000','#ff0000'][datum.index]"}}}
    }}
  ]
 },
 {
  "width":400,"height":286,
  "title":{"text":"(e) 固相中の Cl 含有量"},
  "resolve":{"axis":{"x":"independent","y":"independent"}},
  "layer":[
   {"data":{"values":[{}]},"mark":{"type":"rect","color":"#000000"},"encoding":{"x":{"datum":10.58,"type":"quantitative","scale":{"domain":[0,23],"nice":false,"zero":false},"axis":null},"x2":{"datum":16.22},"y":{"datum":1.441,"type":"quantitative","scale":{"domain":[0,2],"nice":false,"zero":false},"axis":null},"y2":{"datum":1.161}}},
   {"data":{"values":[{}]},"mark":{"type":"rect","fill":"#d3f1ea","stroke":"#000000","strokeWidth":1.5,"cornerRadius":6,"yOffset":-28,"y2Offset":-3},"encoding":{"x":{"datum":17.45,"type":"quantitative","scale":{"domain":[0,23],"nice":false,"zero":false},"axis":null},"x2":{"datum":22.4},"y":{"datum":2,"type":"quantitative","scale":{"domain":[0,2],"nice":false,"zero":false},"axis":null},"y2":{"datum":2}}},
   {"data":{"values":[{}]},"mark":{"type":"text","text":"試料の中心","font":"Noto Sans CJK JP","fontSize":15,"color":"#1a1a1a","align":"center","baseline":"middle","dy":-15.5},"encoding":{"x":{"datum":19.93,"type":"quantitative","scale":{"domain":[0,23],"nice":false,"zero":false},"axis":null},"y":{"datum":2,"type":"quantitative","scale":{"domain":[0,2],"nice":false,"zero":false},"axis":null}}},
   {"data":{"name":"fits"},"transform":[{"filter":"datum.panel === 'e'"}],"mark":{"type":"rule","strokeWidth":2.5},
    "encoding":{
     "x":{"field":"x","type":"quantitative","scale":{"domain":[0,23],"nice":false,"zero":false},"axis":{"orient":"bottom","values":[0,1,2,3,4,5,6,7,8,9,10,11,12,13,14,15,16,17,18,19,20,21,22,23],"labelExpr":"datum.value % 5 === 0 && datum.value <= 20 ? datum.label : ''","grid":true,"gridOpacity":{"condition":{"test":"datum.value % 5 === 0 && datum.value > 0 && datum.value <= 20","value":1},"value":0},"title":"接触面近傍からの距離 [㎜]"}},
     "x2":{"field":"x2"},
     "y":{"field":"y","type":"quantitative","scale":{"domain":[0,2],"nice":false,"zero":false},"axis":{"orient":"left","values":[0,0.1,0.2,0.3,0.4,0.5,0.6,0.7,0.8,0.9,1,1.1,1.2,1.3,1.4,1.5,1.6,1.7,1.8,1.9,2],"labelExpr":"abs(datum.value * 2 - round(datum.value * 2)) < 1e-6 ? format(datum.value, '.1f') : ''","grid":true,"gridOpacity":{"condition":{"test":"abs(datum.value * 2 - round(datum.value * 2)) < 1e-6 && datum.value > 0.01 && datum.value < 1.99","value":1},"value":0},"title":"固相中の Cl 含有量 [㎎/g]"}},
     "stroke":{"field":"line","type":"nominal","scale":{"domain":["Cl 0d","Cl 171d"],"range":["#000000","#ff0000"]},"legend":null}
    }},
   {"data":{"name":"notes"},"transform":[{"filter":"datum.panel === 'e' && datum.tone === 'black'"}],"mark":{"type":"text","align":"left","baseline":"middle","font":"Noto Sans CJK JP","fontWeight":"bold","fontSize":14,"color":"#000000"},"encoding":{"x":{"field":"x","type":"quantitative","scale":{"domain":[0,23],"nice":false,"zero":false},"axis":null},"y":{"field":"y","type":"quantitative","scale":{"domain":[0,2],"nice":false,"zero":false},"axis":null},"text":{"field":"text"}}},
   {"data":{"name":"points"},"transform":[{"filter":"datum.panel === 'e'"}],"mark":{"type":"point","filled":false,"strokeWidth":2,"size":85,"opacity":1},
    "encoding":{
     "x":{"field":"x","type":"quantitative","scale":{"domain":[0,23],"nice":false,"zero":false},"axis":{"orient":"top","values":[0,1,2,3,4,5,6,7,8,9,10,11,12,13,14,15,16,17,18,19,20,21,22,23],"labels":false,"grid":false,"title":null}},
     "y":{"field":"y","type":"quantitative","scale":{"domain":[0,2],"nice":false,"zero":false},"axis":{"orient":"right","values":[0,0.1,0.2,0.3,0.4,0.5,0.6,0.7,0.8,0.9,1,1.1,1.2,1.3,1.4,1.5,1.6,1.7,1.8,1.9,2],"labels":false,"grid":false,"title":null}},
     "color":{"field":"series","type":"nominal","title":null,"scale":{"domain":["Cl\u00a0\u00a0\u00a0\u00a0(0d)","Cl(171d)"],"range":["#000000","#ff0000"]},"legend":{"orient":"none","legendX":176,"legendY":72,"zindex":1,"padding":4.5,"rowPadding":1,"labelOffset":14,"labelFont":"Liberation Sans","labelFontSize":16,"labelLimit":300,"symbolSize":80,"symbolStrokeWidth":2,"fillColor":"#ffffff","strokeColor":"#000000","labelColor":{"expr":"['#000000','#ff0000'][datum.index]"}}},
     "fill":{"field":"series","type":"nominal","title":null,"scale":{"domain":["Cl\u00a0\u00a0\u00a0\u00a0(0d)","Cl(171d)"],"range":["#ffffff","#ff0000"]},"legend":{"orient":"none","legendX":176,"legendY":72,"zindex":1,"padding":4.5,"rowPadding":1,"labelOffset":14,"labelFont":"Liberation Sans","labelFontSize":16,"labelLimit":300,"symbolSize":80,"symbolStrokeWidth":2,"fillColor":"#ffffff","strokeColor":"#000000","labelColor":{"expr":"['#000000','#ff0000'][datum.index]"}}},
     "shape":{"field":"series","type":"nominal","title":null,"scale":{"domain":["Cl\u00a0\u00a0\u00a0\u00a0(0d)","Cl(171d)"],"range":["circle","circle"]},"legend":{"orient":"none","legendX":176,"legendY":72,"zindex":1,"padding":4.5,"rowPadding":1,"labelOffset":14,"labelFont":"Liberation Sans","labelFontSize":16,"labelLimit":300,"symbolSize":80,"symbolStrokeWidth":2,"fillColor":"#ffffff","strokeColor":"#000000","labelColor":{"expr":"['#000000','#ff0000'][datum.index]"}}}
    }}
  ]
 }
]
}
